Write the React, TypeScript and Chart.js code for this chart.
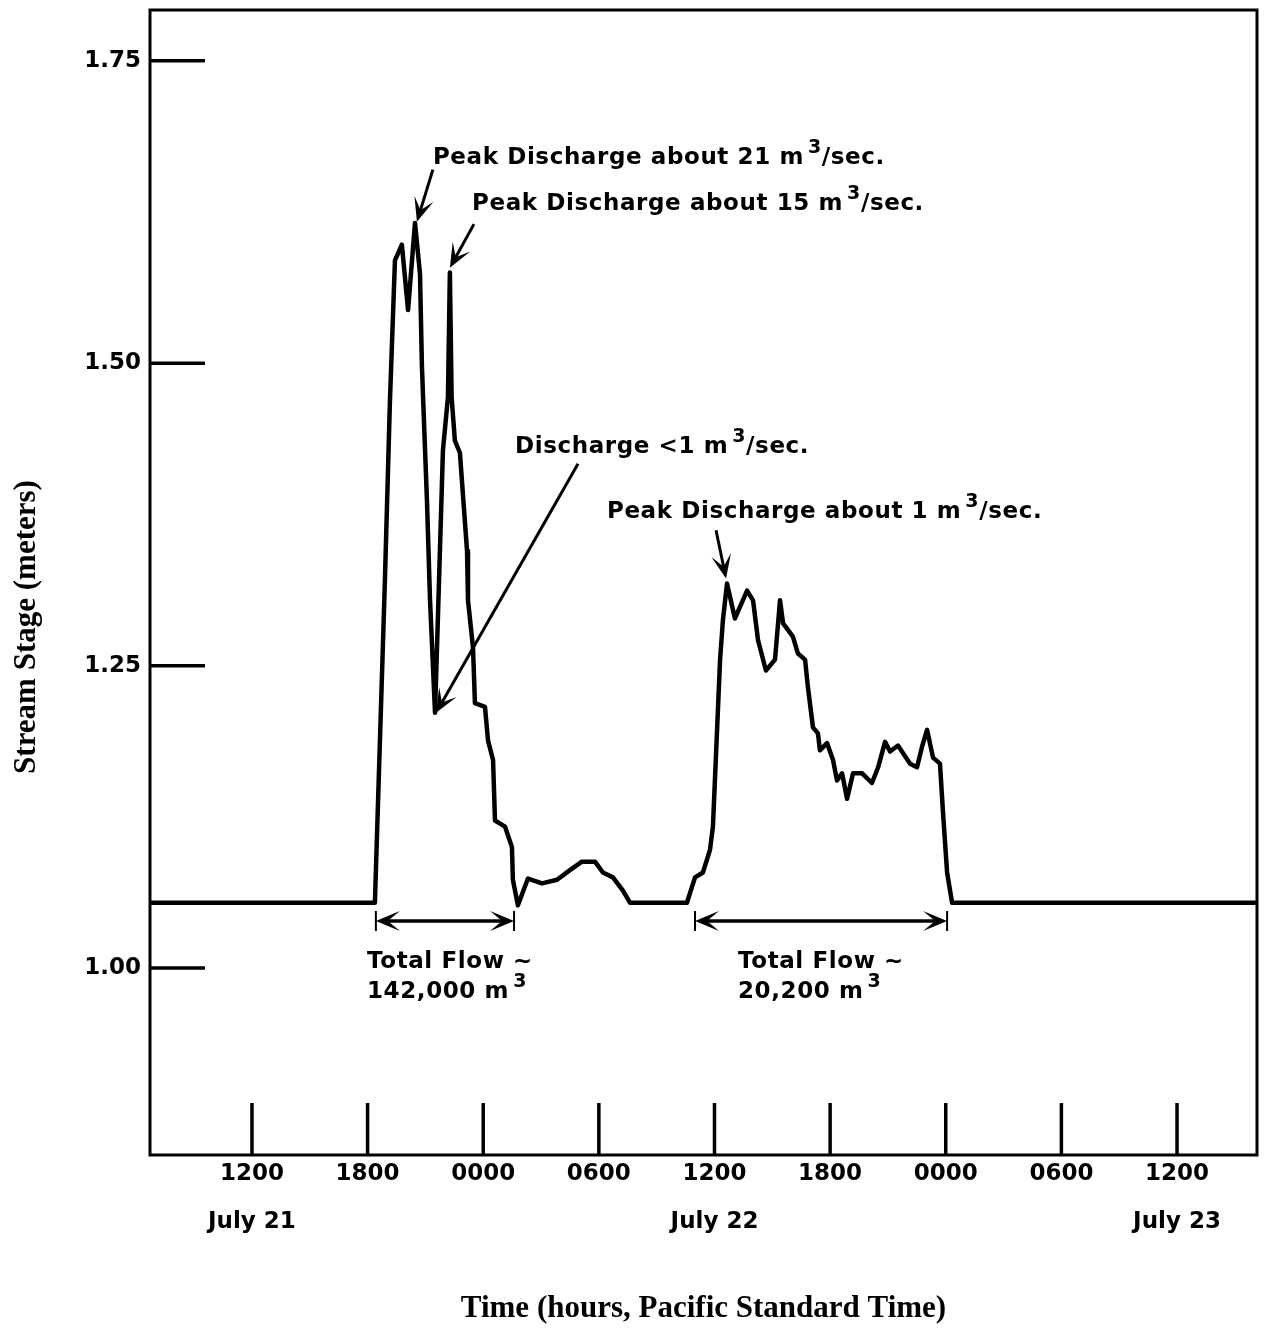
import React, { useEffect, useRef } from "react";
import { Chart, registerables } from "chart.js";

Chart.register(...registerables);

// ---- data (hours since July 21 00:00 PST, stream stage in metres) ----
const timeHours = [
  6.71, 18.38, 18.9, 19.16, 19.42, 19.78, 20.1, 20.46, 20.72, 20.82, 21.08, 21.24, 21.5,
  21.91, 22.17, 22.27, 22.36, 22.53, 22.79, 23.16, 23.21, 23.47, 23.57, 24.09,
  24.25, 24.51, 24.61, 25.13, 25.49, 25.54, 25.8, 26.32, 27.05, 27.83, 28.5, 29.12,
  29.8, 30.21, 30.73, 31.25, 31.62, 34.57, 34.99, 35.4, 35.77, 35.92, 36.29, 36.44,
  36.65, 37.06, 37.69, 38.0, 38.26, 38.67, 39.14, 39.4, 39.56, 40.07, 40.33, 40.7,
  40.85, 41.11, 41.37, 41.47, 41.84, 42.15, 42.36, 42.62, 42.88, 43.19, 43.66, 44.17,
  44.49, 44.85, 45.11, 45.52, 46.15, 46.51, 46.77, 47.03, 47.34, 47.7, 47.86, 48.07,
  48.33, 64.15,
];
const stageMeters = [
  1.054, 1.054, 1.321, 1.469, 1.585, 1.598, 1.544, 1.616, 1.574, 1.497, 1.387, 1.304, 1.211,
  1.428, 1.472, 1.575, 1.472, 1.436, 1.426, 1.345, 1.304, 1.265, 1.219, 1.216,
  1.188, 1.172, 1.122, 1.117, 1.1, 1.073, 1.052, 1.074, 1.07, 1.073, 1.081, 1.088,
  1.088, 1.079, 1.075, 1.064, 1.054, 1.054, 1.075, 1.079, 1.098, 1.117, 1.255, 1.288,
  1.318, 1.289, 1.312, 1.304, 1.271, 1.246, 1.255, 1.304, 1.285, 1.274, 1.26, 1.255,
  1.232, 1.199, 1.194, 1.18, 1.186, 1.172, 1.155, 1.161, 1.14, 1.161, 1.161, 1.153,
  1.166, 1.187, 1.179, 1.184, 1.169, 1.166, 1.183, 1.197, 1.174, 1.169, 1.128, 1.079,
  1.054, 1.054,
];

const xTickHours = [12, 18, 24, 30, 36, 42, 48, 54, 60];
const xTickLabels = ["1200", "1800", "0000", "0600", "1200", "1800", "0000", "0600", "1200"];
const xTickDates = ["July 21", "", "", "", "July 22", "", "", "", "July 23"];
const yTickValues = [1.0, 1.25, 1.5, 1.75];
const xRange = [6.71, 64.15];
const yRange = [0.8455, 1.792];

const xTitle = "Time (hours, Pacific Standard Time)";
const yTitle = "Stream Stage (meters)";

// annotation texts: parts are [text, superscript?]
type Part = [string, boolean];
const noteTexts: { parts: Part[]; at: [number, number] }[] = [
  { parts: [["Peak Discharge about 21 m", false], ["3", true], ["/sec.", false]], at: [21.39, 1.665] },
  { parts: [["Peak Discharge about 15 m", false], ["3", true], ["/sec.", false]], at: [23.42, 1.627] },
  { parts: [["Discharge <1 m", false], ["3", true], ["/sec.", false]], at: [25.65, 1.426] },
  { parts: [["Peak Discharge about 1 m", false], ["3", true], ["/sec.", false]], at: [30.42, 1.372] },
  { parts: [["Total Flow ~", false]], at: [17.97, 1.0] },
  { parts: [["142,000 m", false], ["3", true]], at: [17.97, 0.975] },
  { parts: [["Total Flow ~", false]], at: [37.22, 1.0] },
  { parts: [["20,200 m", false], ["3", true]], at: [37.22, 0.975] },
];
const noteArrows: { from: [number, number]; to: [number, number] }[] = [
  { from: [21.39, 1.66], to: [20.56, 1.617] },
  { from: [23.52, 1.615], to: [22.27, 1.579] },
  { from: [28.92, 1.417], to: [21.55, 1.211] },
  { from: [36.08, 1.362], to: [36.6, 1.322] },
];
const flowSpans: { x1: number; x2: number; y: number }[] = [
  { x1: 18.43, x2: 25.6, y: 1.039 },
  { x1: 34.99, x2: 48.07, y: 1.039 },
];

const SANS = '"DejaVu Sans", sans-serif';
const SERIF = '"Liberation Serif", "Times New Roman", serif';

function arrowHead(ctx: CanvasRenderingContext2D, x: number, y: number, ang: number) {
  const len = 24;
  const half = 10;
  const ux = Math.cos(ang), uy = Math.sin(ang);
  const px = -uy, py = ux;
  ctx.beginPath();
  ctx.moveTo(x, y);
  ctx.lineTo(x - ux * len + px * half, y - uy * len + py * half);
  ctx.lineTo(x - ux * len * 0.5, y - uy * len * 0.5);
  ctx.lineTo(x - ux * len - px * half, y - uy * len - py * half);
  ctx.closePath();
  ctx.fill();
}

const decorPlugin = {
  id: "decor",
  afterDraw(chart: any) {
    const ctx: CanvasRenderingContext2D = chart.ctx;
    const { left, right, top, bottom } = chart.chartArea;
    const xs = chart.scales.x;
    const ys = chart.scales.y;
    ctx.save();
    ctx.strokeStyle = "#000";
    ctx.fillStyle = "#000";
    ctx.lineCap = "butt";
    // frame
    ctx.lineWidth = 3;
    ctx.strokeRect(left, top, right - left, bottom - top);
    // inside ticks
    ctx.lineWidth = 3.5;
    for (const t of xs.ticks) {
      const p = xs.getPixelForValue(t.value);
      ctx.beginPath();
      ctx.moveTo(p, bottom);
      ctx.lineTo(p, bottom - 52);
      ctx.stroke();
    }
    for (const t of ys.ticks) {
      const p = ys.getPixelForValue(t.value);
      ctx.beginPath();
      ctx.moveTo(left, p);
      ctx.lineTo(left + 55, p);
      ctx.stroke();
    }
    // arrows
    ctx.lineWidth = 3;
    for (const a of noteArrows) {
      const x1 = xs.getPixelForValue(a.from[0]);
      const y1 = ys.getPixelForValue(a.from[1]);
      const x2 = xs.getPixelForValue(a.to[0]);
      const y2 = ys.getPixelForValue(a.to[1]);
      const ang = Math.atan2(y2 - y1, x2 - x1);
      ctx.beginPath();
      ctx.moveTo(x1, y1);
      ctx.lineTo(x2 - Math.cos(ang) * 10, y2 - Math.sin(ang) * 10);
      ctx.stroke();
      arrowHead(ctx, x2, y2, ang);
    }
    // flow spans
    for (const s of flowSpans) {
      const a = xs.getPixelForValue(s.x1);
      const b = xs.getPixelForValue(s.x2);
      const y = ys.getPixelForValue(s.y);
      ctx.lineWidth = 3.5;
      ctx.beginPath();
      ctx.moveTo(a + 8, y);
      ctx.lineTo(b - 8, y);
      ctx.stroke();
      ctx.lineWidth = 2;
      ctx.beginPath();
      ctx.moveTo(a, y - 10);
      ctx.lineTo(a, y + 10);
      ctx.moveTo(b, y - 10);
      ctx.lineTo(b, y + 10);
      ctx.stroke();
      arrowHead(ctx, a, y, Math.PI);
      arrowHead(ctx, b, y, 0);
    }
    // texts
    ctx.textBaseline = "alphabetic";
    ctx.textAlign = "left";
    (ctx as any).letterSpacing = "0.6px";
    for (const n of noteTexts) {
      let cx = xs.getPixelForValue(n.at[0]);
      const cy = ys.getPixelForValue(n.at[1]);
      for (const [s, sup] of n.parts) {
        ctx.font = `bold ${sup ? 19 : 23}px ${SANS}`;
        if (sup) cx += 4;
        ctx.fillText(s, cx, sup ? cy - 11 : cy);
        cx += ctx.measureText(s).width;
      }
    }
    (ctx as any).letterSpacing = "0px";
    // y title
    ctx.font = `bold 31px ${SERIF}`;
    ctx.textAlign = "center";
    ctx.textBaseline = "middle";
    ctx.translate(27, 627);
    ctx.rotate(-Math.PI / 2);
    ctx.fillText(yTitle, 0, 0);
    ctx.restore();
  },
};

export default function App() {
  const ref = useRef<HTMLCanvasElement | null>(null);
  useEffect(() => {
    const canvas = ref.current;
    if (!canvas) return;
    const chart = new Chart(canvas, {
      type: "line",
      data: {
        datasets: [
          {
            data: timeHours.map((t, i) => ({ x: t, y: stageMeters[i] })),
            borderColor: "#000",
            borderWidth: 4.5,
            pointRadius: 0,
            fill: false,
            tension: 0,
            borderJoinStyle: "round",
            borderCapStyle: "round",
          },
        ],
      },
      options: {
        responsive: false,
        animation: false,
        events: [],
        layout: { padding: { top: 10, right: 9, left: 0, bottom: 0 } },
        plugins: { legend: { display: false }, tooltip: { enabled: false }, title: { display: false } },
        scales: {
          x: {
            type: "linear",
            min: xRange[0],
            max: xRange[1],
            grid: { display: false, drawTicks: false },
            border: { display: false },
            afterBuildTicks: (s: any) => {
              s.ticks = xTickHours.map((v) => ({ value: v }));
            },
            afterFit: (s: any) => {
              s.height = 179;
              s.paddingLeft = 0;
              s.paddingRight = 0;
            },
            ticks: {
              autoSkip: false,
              maxRotation: 0,
              minRotation: 0,
              color: "#000",
              padding: 7,
              font: { family: SANS, size: 23, weight: "bold", lineHeight: "24px" as any },
              callback: (v: any) => {
                const i = xTickHours.indexOf(Number(v));
                if (i < 0) return "";
                return xTickDates[i] ? [xTickLabels[i], "", xTickDates[i]] : xTickLabels[i];
              },
            },
            title: {
              display: true,
              text: xTitle,
              color: "#000",
              font: { family: SERIF, size: 31, weight: "bold" },
              padding: { top: 0, bottom: 6 },
            },
          },
          y: {
            type: "linear",
            min: yRange[0],
            max: yRange[1],
            grid: { display: false, drawTicks: false },
            border: { display: false },
            afterBuildTicks: (s: any) => {
              s.ticks = yTickValues.map((v) => ({ value: v }));
            },
            afterFit: (s: any) => {
              s.width = 150;
              s.paddingTop = 0;
              s.paddingBottom = 0;
            },
            ticks: {
              color: "#000",
              padding: 9,
              font: { family: SANS, size: 23, weight: "bold" },
              callback: (v: any) => Number(v).toFixed(2),
            },
          },
        },
      },
      plugins: [decorPlugin],
    } as any);
    return () => chart.destroy();
  }, []);
  return (
    <div style={{ position: "absolute", left: 0, top: 0, width: 1266, height: 1334, background: "#fff" }}>
      <canvas ref={ref} width={1266} height={1334} style={{ display: "block" }} />
    </div>
  );
}
